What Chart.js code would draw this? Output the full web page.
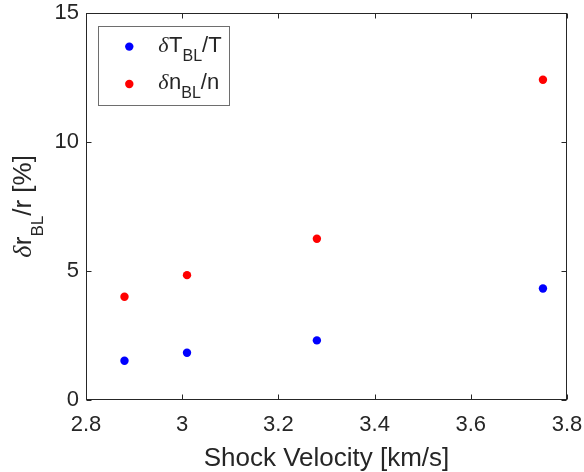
<!DOCTYPE html>
<html>
<head>
<meta charset="utf-8">
<script src="https://cdn.jsdelivr.net/npm/chart.js@4.4.1/dist/chart.umd.min.js"></script>
<style>
html,body{margin:0;padding:0;background:#fff;}
#wrap{width:584px;height:472px;position:relative;}
</style>
</head>
<body>
<div id="wrap"><canvas id="c" width="584" height="472"></canvas></div>
<script>
// ---- data ----
const shockVelocity = [2.88, 3.01, 3.28, 3.75];
const deltaT = [1.52, 1.83, 2.31, 4.32];
const deltaN = [4.00, 4.84, 6.25, 12.41];
const xTickLabels = ['2.8', '3', '3.2', '3.4', '3.6', '3.8'];
const yTickLabels = ['0', '5', '10', '15'];
const seriesNames = [['δ', 'T', 'BL', '/T'], ['δ', 'n', 'BL', '/n']];
const xTitle = 'Shock Velocity [km/s]';
const yTitleParts = ['δ', 'r', 'BL', '/r [%]'];

const AX = '#262626';
const SANS = "'Liberation Sans', Arial, sans-serif";
const SERIF = "'Liberation Serif', 'DejaVu Serif', serif";

function pts(xs, ys) { return xs.map((x, i) => ({x: x, y: ys[i]})); }

// draw text pieces: greek (italic serif), main, subscript, rest
function drawRich(ctx, parts, x, y, size, subSize, subShift) {
  const [g, m, s, r] = parts;
  ctx.textBaseline = 'alphabetic';
  ctx.textAlign = 'left';
  ctx.font = 'italic ' + size + 'px ' + SERIF;
  ctx.fillText(g, x, y); x += ctx.measureText(g).width + 0.5;
  ctx.font = size + 'px ' + SANS;
  ctx.fillText(m, x, y); x += ctx.measureText(m).width;
  ctx.font = subSize + 'px ' + SANS;
  ctx.fillText(s, x, y + subShift); x += ctx.measureText(s).width;
  ctx.font = size + 'px ' + SANS;
  ctx.fillText(r, x, y); x += ctx.measureText(r).width;
  return x;
}
function richWidth(ctx, parts, size, subSize) {
  const [g, m, s, r] = parts;
  let w = 0;
  ctx.font = 'italic ' + size + 'px ' + SERIF; w += ctx.measureText(g).width + 0.5;
  ctx.font = size + 'px ' + SANS; w += ctx.measureText(m).width + ctx.measureText(r).width;
  ctx.font = subSize + 'px ' + SANS; w += ctx.measureText(s).width;
  return w;
}

const decor = {
  id: 'decor',
  afterDraw(chart) {
    const ctx = chart.ctx;
    const a = chart.chartArea;
    const xs = chart.scales.x, ys = chart.scales.y;
    ctx.save();
    // box
    ctx.strokeStyle = AX; ctx.lineWidth = 1;
    const L = Math.round(a.left) + 0.5, R = Math.round(a.right) - 0.5;
    const T = Math.round(a.top) + 0.5, B = Math.round(a.bottom) - 0.5;
    ctx.strokeRect(L, T, R - L, B - T);
    // inward ticks
    const tl = 5;
    ctx.beginPath();
    xs.ticks.forEach(t => {
      const px = Math.round(xs.getPixelForValue(t.value)) + 0.5;
      ctx.moveTo(px, B); ctx.lineTo(px, B - tl);
      ctx.moveTo(px, T); ctx.lineTo(px, T + tl);
    });
    ys.ticks.forEach(t => {
      const py = Math.round(ys.getPixelForValue(t.value)) + 0.5;
      ctx.moveTo(L, py); ctx.lineTo(L + tl, py);
      ctx.moveTo(R, py); ctx.lineTo(R - tl, py);
    });
    ctx.stroke();

    // legend
    const lx = a.left + 12.3, ly = a.top + 12.6, lw = 130.7, lh = 78.7;
    ctx.fillStyle = '#fff';
    ctx.fillRect(lx, ly, lw, lh);
    ctx.strokeStyle = '#6e6e6e';
    ctx.strokeRect(Math.round(lx) + 0.5, Math.round(ly) + 0.5, Math.round(lw), Math.round(lh));
    chart.data.datasets.forEach((ds, i) => {
      const cy = ly + 21 + i * 37.4;
      ctx.fillStyle = ds.backgroundColor;
      ctx.beginPath(); ctx.arc(lx + 31, cy, 4.2, 0, Math.PI * 2); ctx.fill();
      ctx.fillStyle = AX;
      drawRich(ctx, seriesNames[i], lx + 60, cy + 5, 22, 16, 9);
    });

    // y title (rotated, with subscript)
    const cyMid = (a.top + a.bottom) / 2;
    ctx.translate(31, cyMid);
    ctx.rotate(-Math.PI / 2);
    ctx.fillStyle = AX;
    const w = richWidth(ctx, yTitleParts, 26, 17);
    drawRich(ctx, yTitleParts, -w / 2, 0, 26, 17, 12);
    ctx.restore();
  }
};

new Chart(document.getElementById('c'), {
  type: 'scatter',
  data: {
    datasets: [
      {label: 'dT', data: pts(shockVelocity, deltaT), backgroundColor: '#0000ff', borderColor: '#0000ff',
       pointRadius: 4.2, pointBorderWidth: 0, pointHoverRadius: 4.2},
      {label: 'dn', data: pts(shockVelocity, deltaN), backgroundColor: '#ff0000', borderColor: '#ff0000',
       pointRadius: 4.2, pointBorderWidth: 0, pointHoverRadius: 4.2}
    ]
  },
  options: {
    responsive: false,
    animation: false,
    events: [],
    layout: {padding: {top: 13, right: 17, left: 0, bottom: 0}},
    plugins: {legend: {display: false}, tooltip: {enabled: false}},
    scales: {
      x: {
        type: 'linear', min: 2.8, max: 3.8,
        afterFit(s) { s.height = 72; s.paddingLeft = 0; s.paddingRight = 0; },
        grid: {display: false, drawTicks: false},
        border: {display: false},
        ticks: {
          stepSize: 0.2, padding: 12, color: AX, maxRotation: 0, autoSkip: false,
          font: {family: SANS, size: 22},
          callback: (v, i) => xTickLabels[i]
        },
        title: {display: true, text: xTitle, color: AX, font: {family: SANS, size: 26}, padding: {top: 0, bottom: -2}}
      },
      y: {
        type: 'linear', min: 0, max: 15,
        afterFit(s) { s.width = 86; s.paddingTop = 0; s.paddingBottom = 0; },
        grid: {display: false, drawTicks: false},
        border: {display: false},
        ticks: {
          stepSize: 5, padding: 7, color: AX,
          font: {family: SANS, size: 22},
          callback: (v, i) => yTickLabels[i]
        }
      }
    }
  },
  plugins: [decor]
});
</script>
</body>
</html>
